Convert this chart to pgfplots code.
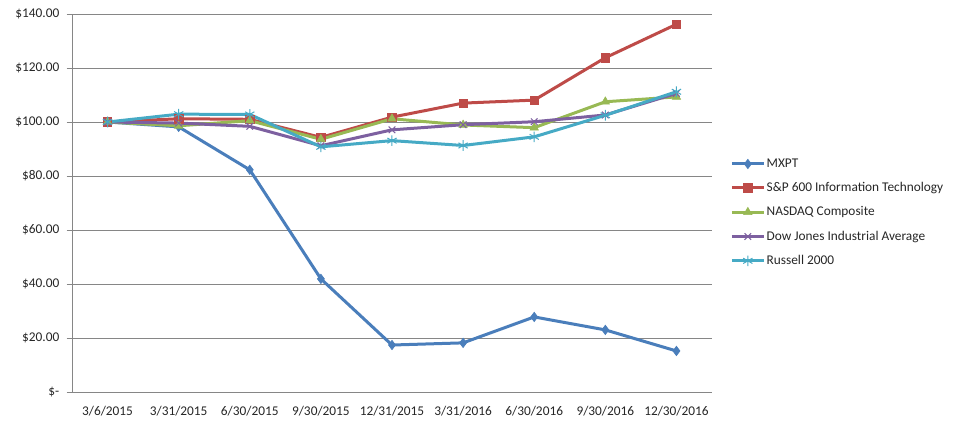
\documentclass[border=0pt]{standalone}
\usepackage{fontspec}
\setmainfont{Carlito}
\usepackage{pgfplots}
\pgfplotsset{compat=1.18}
\definecolor{cMX}{HTML}{4A7EBB}
\definecolor{cSP}{HTML}{BE4B48}
\definecolor{cNQ}{HTML}{98B954}
\definecolor{cDJ}{HTML}{7D60A0}
\definecolor{cRU}{HTML}{46AAC5}
\definecolor{gridgray}{HTML}{868686}
\begin{document}
\begin{tikzpicture}
\path[use as bounding box] (0pt,0pt) rectangle (715.5pt,319.5pt);
\begin{axis}[
  at={(54pt,25.5pt)}, anchor=south west,
  scale only axis, width=480pt, height=283.5pt,
  xmin=-0.5, xmax=8.5, ymin=0, ymax=140,
  ytick={0,20,...,140},
  yticklabels={\$-\hspace{7pt},\$20.00,\$40.00,\$60.00,\$80.00,\$100.00,\$120.00,\$140.00},
  xtick={0,...,8},
  xticklabels={3/6/2015,3/31/2015,6/30/2015,9/30/2015,12/31/2015,3/31/2016,6/30/2016,9/30/2016,12/30/2016},
  major x tick style={draw=none},
  extra x ticks={-0.5,0.5,...,8.5},
  extra x tick labels={},
  extra x tick style={grid=none, major tick length=4pt, tick align=outside, tick style={draw=gridgray, line width=0.75pt}},
  ytick style={draw=gridgray, line width=0.75pt},
  tick align=outside, major tick length=4pt,
  ymajorgrids, grid style={draw=gridgray, line width=0.75pt},
  axis x line*=bottom, axis y line*=left,
  axis line style={-, draw=gridgray, line width=0.75pt},
  tick label style={font=\fontsize{10pt}{12pt}\selectfont, text=black!85},
  xticklabel style={yshift=-3pt},
  yticklabel style={xshift=-2pt},
  legend style={draw=none, fill=none, at={(1.022,0.632)}, anchor=north west,
    font=\fontsize{10pt}{12pt}\selectfont, text=black!85, row sep=5.8pt,
    nodes={inner xsep=1pt}},
  legend cell align=left,
  legend image code/.code={\draw[mark repeat=2,mark phase=2] plot coordinates {(0pt,0pt) (12pt,0pt) (24pt,0pt)};},
  every axis plot/.append style={line width=2.25pt},
]
\addplot[cMX, mark=diamond*, mark size=3.5pt, mark options={solid, line width=0.5pt}] coordinates {
(0,100) (1,98.2) (2,82.3) (3,41.9) (4,17.4) (5,18.2) (6,27.8) (7,23.0) (8,15.2)};
\addlegendentry{MXPT}
\addplot[cSP, mark=square*, mark size=3.2pt, mark options={solid, line width=0.5pt}] coordinates {
(0,100) (1,101.2) (2,101.0) (3,94.3) (4,101.8) (5,107.0) (6,108.1) (7,123.8) (8,136.2)};
\addlegendentry{S\&P 600 Information Technology}
\addplot[cNQ, mark=triangle*, mark size=3.6pt, mark options={solid, line width=0.5pt}] coordinates {
(0,100) (1,98.6) (2,100.5) (3,93.6) (4,101.2) (5,98.9) (6,97.9) (7,107.5) (8,109.3)};
\addlegendentry{NASDAQ Composite}
\addplot[cDJ, mark=x, mark size=3.5pt, mark options={solid, line width=0.75pt}] coordinates {
(0,100) (1,99.6) (2,98.4) (3,91.2) (4,97.1) (5,99.0) (6,100.1) (7,102.6) (8,110.6)};
\addlegendentry{Dow Jones Industrial Average}
\addplot[cRU, mark=asterisk, mark size=4pt, mark options={solid, line width=0.75pt}] coordinates {
(0,100) (1,102.9) (2,102.8) (3,90.8) (4,93.1) (5,91.3) (6,94.5) (7,102.5) (8,111.2)};
\addlegendentry{Russell 2000}
\end{axis}
\end{tikzpicture}
\end{document}
